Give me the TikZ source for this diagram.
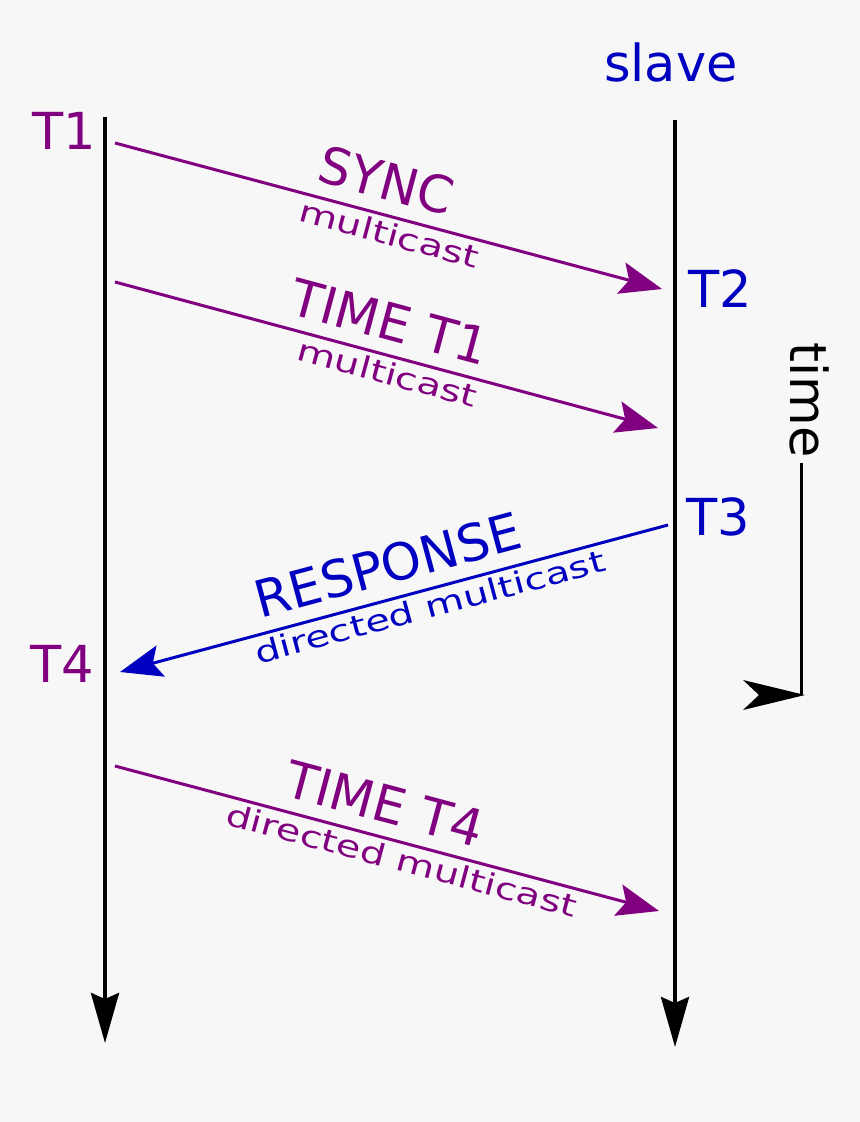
\documentclass[tikz,border=0pt]{standalone}
\usepackage{fontspec}
\setmainfont{DejaVu Sans}
\newfontfamily\widefamily[FakeStretch=1.33]{DejaVu Sans}
\usetikzlibrary{arrows.meta, positioning}
\definecolor{msgpurple}{RGB}{128,0,128}
\definecolor{msgblue}{RGB}{0,0,192}
\definecolor{pagebg}{RGB}{247,247,247}
\newcommand{\bigtext}{\fontsize{25.5pt}{30pt}\selectfont}
\newcommand{\smalltext}{\widefamily\fontsize{15pt}{18pt}\selectfont}

\begin{document}
\begin{tikzpicture}[x=0.5pt, y=-0.5pt,
    lifeline/.style={line width=2pt, -{Stealth[length=25pt, width=14pt, inset=3pt]}},
    msg/.style={line width=1.5pt, -{Stealth[length=21pt, width=16pt, inset=4pt]}},
    msgback/.style={line width=1.5pt, {Stealth[length=21pt, width=16pt, inset=4pt]}-},
    stamp/.style={font=\bigtext, anchor=base, inner sep=0pt},
    msglabel/.style={font=\bigtext, inner sep=0pt, sloped, above=6.5pt},
    msgkind/.style={font=\smalltext, inner sep=0pt, sloped, below=2pt}
]
    \fill[pagebg] (0,0) rectangle (860,1122);
    \useasboundingbox (0,0) rectangle (860,1122);

    % time lines
    \coordinate (mtop) at (105,117);
    \coordinate (mend) at (105,1043);
    \coordinate (stop) at (675,120);
    \coordinate (send) at (675,1047);
    \draw[lifeline] (mtop) -- (mend);
    \draw[lifeline] (stop) -- (send);

    \node[stamp, msgblue] (slave) at (671,82) {slave};
    \node[stamp, msgpurple] (t1) at (64,150) {T1};
    \node[stamp, msgblue] (t2) at (720,308) {T2};
    \node[stamp, msgblue] (t3) at (718,535) {T3};
    \node[stamp, msgpurple] (t4) at (62,682) {T4};

    % messages
    \coordinate (sync0) at (115,143);
    \coordinate (sync1) at (662,289);
    \coordinate (fup0) at (115,282);
    \coordinate (fup1) at (658,428);
    \coordinate (resp0) at (668,525);
    \coordinate (resp1) at (120,672);
    \coordinate (fup40) at (115,766);
    \coordinate (fup41) at (659,911);

    \draw[msg, msgpurple] (sync0) -- node[pos=0.48, msglabel] (synclbl) {SYNC}
        node[pos=0.51, msgkind] (synckind) {multicast} (sync1);
    \draw[msg, msgpurple] (fup0) -- node[pos=0.49, msglabel] (fuplbl) {TIME T1}
        node[pos=0.51, msgkind] (fupkind) {multicast} (fup1);
    \draw[msgback, msgblue] (resp1) -- node[pos=0.505, msglabel] (resplbl) {RESPONSE}
        node[pos=0.557, msgkind] (respkind) {directed multicast} (resp0);
    \draw[msg, msgpurple] (fup40) -- node[pos=0.48, msglabel] (fup4lbl) {TIME T4}
        node[pos=0.535, msgkind] (fup4kind) {directed multicast} (fup41);

    % time arrow
    \node[stamp, rotate=-90] (time) at (790,400) {time};
    \coordinate (ttop) at (801,463);
    \coordinate (tcorner) at (801,695);
    \coordinate (ttip) at (805,695);
    \draw[line width=1.5pt] (ttop) -- (tcorner);
    \fill (ttip) -- ++(-62,-15) -- ++(16,15) -- ++(-16,15) -- cycle;
\end{tikzpicture}
\end{document}
